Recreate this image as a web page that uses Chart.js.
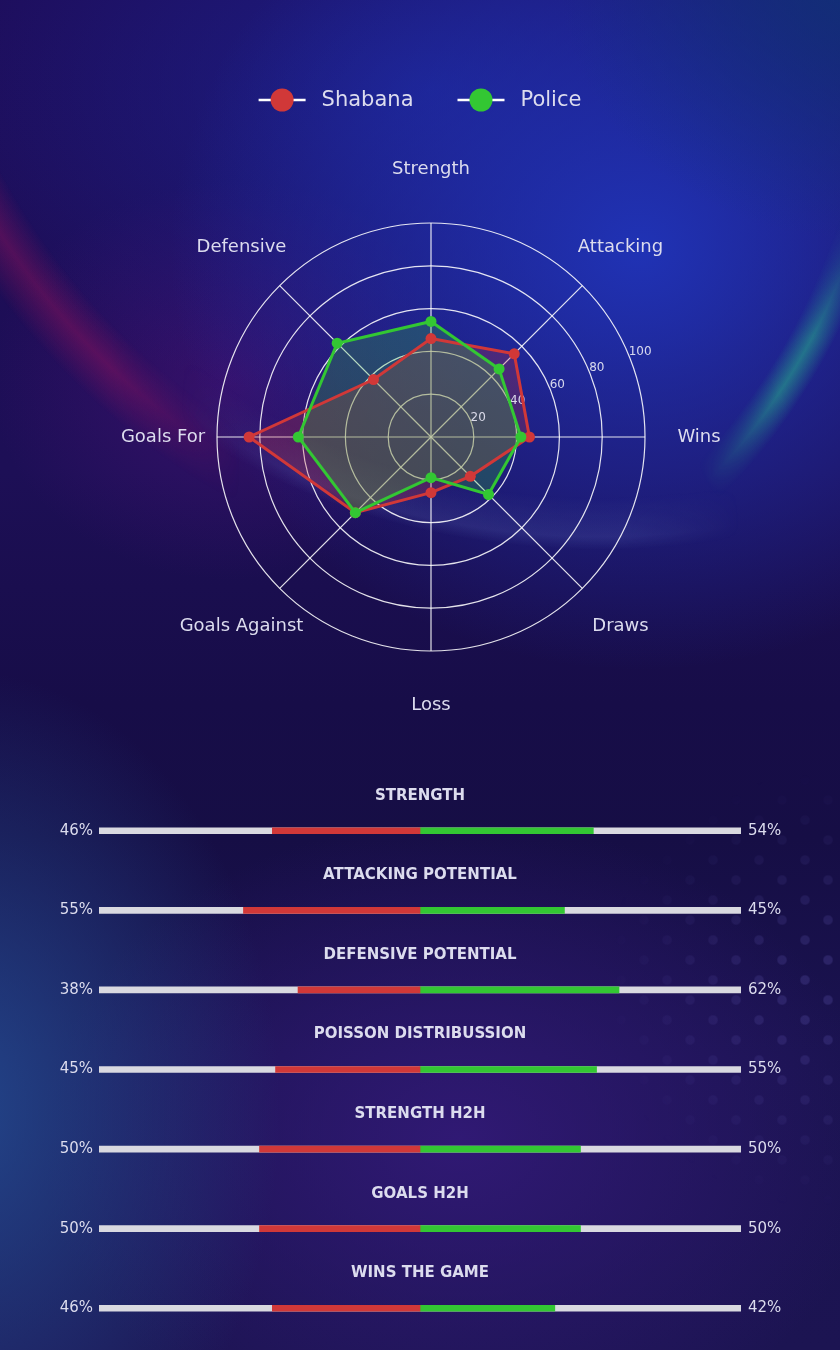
<!DOCTYPE html>
<html>
<head>
<meta charset="utf-8">
<title>Shabana vs Police</title>
<script src="https://cdn.jsdelivr.net/npm/chart.js@4.4.1/dist/chart.umd.min.js"></script>
<style>
    html, body {
        margin: 0;
        padding: 0;
    }
    body {
        position: relative;
        width: 840px;
        height: 1350px;
        overflow: hidden;
        background:
            radial-gradient(ellipse 300px 260px at 860px -20px, rgba(16, 50, 120, 0.9), rgba(16, 50, 120, 0) 100%),
            radial-gradient(ellipse 470px 420px at 640px 250px, rgba(32, 52, 185, 0.95), rgba(32, 52, 185, 0) 100%),
            radial-gradient(ellipse 520px 320px at 430px 90px, rgba(28, 36, 150, 0.75), rgba(28, 36, 150, 0) 100%),
            radial-gradient(ellipse 240px 200px at 230px 380px, rgba(72, 18, 120, 0.6), rgba(72, 18, 120, 0) 100%),
            radial-gradient(ellipse 320px 440px at -40px 1110px, rgba(36, 78, 148, 0.85), rgba(36, 78, 148, 0) 100%),
            radial-gradient(ellipse 420px 320px at 460px 1140px, rgba(52, 26, 122, 0.85), rgba(52, 26, 122, 0) 100%),
            linear-gradient(180deg, #1e0c58 0%, #1d0f56 35%, #170d48 52%, #160e45 62%, #1a1350 78%, #1c1452 100%);
    }
    .bg-layer {
        position: absolute;
        left: 0;
        top: 0;
        width: 840px;
        height: 1350px;
        pointer-events: none;
    }
    .arc-red {
        background: radial-gradient(circle at 600px -150px, rgba(170, 20, 90, 0) 680px, rgba(175, 20, 92, 0.36) 712px, rgba(170, 20, 90, 0) 748px);
        -webkit-mask-image: linear-gradient(90deg, #000 0px, #000 110px, transparent 240px);
        mask-image: linear-gradient(90deg, #000 0px, #000 110px, transparent 240px);
    }
    .arc-teal {
        background: radial-gradient(circle at 250px 40px, rgba(40, 190, 140, 0) 615px, rgba(40, 195, 140, 0.5) 636px, rgba(40, 190, 140, 0) 657px);
        -webkit-mask-image: radial-gradient(ellipse 130px 170px at 810px 380px, #000 25%, transparent 100%);
        mask-image: radial-gradient(ellipse 130px 170px at 810px 380px, #000 25%, transparent 100%);
    }
    .haze {
        background: radial-gradient(ellipse 600px 440px at 600px 110px, rgba(120, 140, 220, 0) 88%, rgba(130, 150, 225, 0.14) 97%, rgba(120, 140, 220, 0) 100%);
        -webkit-mask-image: linear-gradient(90deg, transparent 180px, #000 300px, #000 620px, transparent 740px);
        mask-image: linear-gradient(90deg, transparent 180px, #000 300px, #000 620px, transparent 740px);
    }
    .dots {
        background-image:
            radial-gradient(circle, rgba(120, 110, 210, 0.2) 4px, rgba(120, 110, 210, 0) 5.5px),
            radial-gradient(circle, rgba(120, 110, 210, 0.2) 4px, rgba(120, 110, 210, 0) 5.5px);
        background-size: 46px 40px, 46px 40px;
        background-position: 0 0, 23px 20px;
        -webkit-mask-image: radial-gradient(ellipse 230px 220px at 830px 990px, #000 15%, transparent 100%);
        mask-image: radial-gradient(ellipse 230px 220px at 830px 990px, #000 15%, transparent 100%);
    }
    canvas {
        position: absolute;
        left: 0;
    }
    #graficoRadar {
        top: 0;
    }
    #graficoBarras {
        top: 760px;
    }
</style>
</head>
<body>
<div class="bg-layer arc-red"></div>
<div class="bg-layer haze"></div>
<div class="bg-layer arc-teal"></div>
<div class="bg-layer dots"></div>
<canvas id="graficoRadar" width="840" height="760"></canvas>
<canvas id="graficoBarras" width="840" height="590"></canvas>
<script>
// radar data
const categories = ['Strength', 'Attacking', 'Wins', 'Draws', 'Loss', 'Goals Against', 'Goals For', 'Defensive'];
const shabanaValues = [46, 55, 46, 26, 26, 50, 85, 38];
const policeValues = [54, 45, 42, 38, 19, 50, 62, 62];
const radialTicks = [20, 40, 60, 80, 100];

// comparison bars
const barTitles = ['STRENGTH', 'ATTACKING POTENTIAL', 'DEFENSIVE POTENTIAL', 'POISSON DISTRIBUSSION', 'STRENGTH H2H', 'GOALS H2H', 'WINS THE GAME'];
const shabanaPct = [46, 55, 38, 45, 50, 50, 46];
const policePct = [54, 45, 62, 55, 50, 50, 42];

const teamNames = ['Shabana', 'Police'];
const red = '#d13838';
const green = '#33c733';
const textColor = '#dcdcee';

Chart.defaults.font.family = '"DejaVu Sans", sans-serif';
Chart.defaults.color = textColor;

// tick numbers, point labels and legend on the radar
const radarText = {
    id: 'radarText',
    beforeDatasetsDraw(chart) {
        const scale = chart.scales.r;
        const ctx = chart.ctx;
        const ang = Math.PI / 8;
        ctx.save();
        ctx.font = '12px "DejaVu Sans"';
        ctx.fillStyle = 'rgba(230, 230, 244, 0.92)';
        ctx.textAlign = 'left';
        ctx.textBaseline = 'alphabetic';
        radialTicks.forEach(v => {
            const d = scale.getDistanceFromCenterForValue(v);
            ctx.fillText(String(v), scale.xCenter + d * Math.cos(ang), scale.yCenter - d * Math.sin(ang));
        });
        ctx.restore();
    },
    afterDraw(chart) {
        const scale = chart.scales.r;
        const ctx = chart.ctx;
        ctx.save();
        ctx.fillStyle = textColor;
        ctx.font = '18px "DejaVu Sans"';
        ctx.textAlign = 'center';
        ctx.textBaseline = 'middle';
        chart.data.labels.forEach((label, i) => {
            const p = scale.getPointPosition(i, scale.drawingArea + 54);
            ctx.fillText(label, p.x, p.y);
        });

        // legend: line + marker like a line plot handle
        ctx.font = '21px "DejaVu Sans"';
        ctx.textAlign = 'left';
        const handle = 47, gap = 16, spacing = 44;
        const items = [...chart.data.datasets].sort((a, b) => a.legendIndex - b.legendIndex);
        let total = 0;
        items.forEach((ds, i) => {
            total += handle + gap + ctx.measureText(ds.label).width + (i < items.length - 1 ? spacing : 0);
        });
        let x = chart.width / 2 - total / 2;
        const y = 100;
        items.forEach(ds => {
            ctx.strokeStyle = '#ffffff';
            ctx.lineWidth = 2.5;
            ctx.beginPath();
            ctx.moveTo(x, y);
            ctx.lineTo(x + handle, y);
            ctx.stroke();
            ctx.fillStyle = ds.borderColor;
            ctx.beginPath();
            ctx.arc(x + handle / 2, y, 11.5, 0, Math.PI * 2);
            ctx.fill();
            x += handle + gap;
            ctx.fillStyle = textColor;
            ctx.fillText(ds.label, x, y + 1);
            x += ctx.measureText(ds.label).width + spacing;
        });
        ctx.restore();
    }
};

new Chart(document.getElementById('graficoRadar').getContext('2d'), {
    type: 'radar',
    data: {
        labels: categories,
        datasets: [{
            label: teamNames[0],
            legendIndex: 0,
            order: 1,
            data: shabanaValues,
            backgroundColor: 'rgba(209, 56, 56, 0.25)',
            borderColor: red,
            borderWidth: 3,
            pointBackgroundColor: red,
            pointBorderWidth: 0,
            pointRadius: 5.5
        }, {
            label: teamNames[1],
            legendIndex: 1,
            order: 0,
            data: policeValues,
            backgroundColor: 'rgba(51, 199, 51, 0.25)',
            borderColor: green,
            borderWidth: 3,
            pointBackgroundColor: green,
            pointBorderWidth: 0,
            pointRadius: 5.5
        }]
    },
    options: {
        responsive: false,
        animation: false,
        layout: { padding: 0 },
        elements: { line: { tension: 0 } },
        scales: {
            r: {
                min: 0,
                max: 100,
                beginAtZero: true,
                ticks: { stepSize: 20, display: false },
                grid: { color: 'rgba(255, 255, 255, 0.88)', lineWidth: 1.2, circular: true },
                angleLines: { color: 'rgba(255, 255, 255, 0.88)', lineWidth: 1.2 },
                pointLabels: { display: false },
                afterFit(scale) {
                    scale.xCenter = 431;
                    scale.yCenter = 437;
                    scale.drawingArea = 214;
                }
            }
        },
        plugins: {
            legend: { display: false },
            filler: { drawTime: 'beforeDatasetsDraw' },
            tooltip: { enabled: true }
        }
    },
    plugins: [radarText]
});

// titles and percentages around each bar
const barText = {
    id: 'barText',
    afterDatasetsDraw(chart) {
        const ctx = chart.ctx;
        const yScale = chart.scales.y;
        const xScale = chart.scales.x;
        const area = chart.chartArea;
        ctx.save();
        ctx.fillStyle = textColor;
        ctx.textBaseline = 'middle';
        barTitles.forEach((title, i) => {
            const py = yScale.getPixelForValue(i);
            ctx.font = 'bold 15px "DejaVu Sans"';
            ctx.textAlign = 'center';
            ctx.fillText(title, xScale.getPixelForValue(0), py - 35);
            ctx.font = '15px "DejaVu Sans"';
            ctx.textAlign = 'right';
            ctx.fillText(shabanaPct[i] + '%', area.left - 6, py);
            ctx.textAlign = 'left';
            ctx.fillText(policePct[i] + '%', area.right + 7, py);
        });
        ctx.restore();
    }
};

new Chart(document.getElementById('graficoBarras').getContext('2d'), {
    type: 'bar',
    data: {
        labels: barTitles,
        datasets: [{
            label: teamNames[0],
            data: shabanaPct.map(v => [-v, 0]),
            backgroundColor: red,
            order: 0
        }, {
            label: teamNames[1],
            data: policePct.map(v => [0, v]),
            backgroundColor: green,
            order: 0
        }, {
            label: 'total',
            data: barTitles.map(() => [-100, 100]),
            backgroundColor: '#d9d9e0',
            order: 1
        }]
    },
    options: {
        indexAxis: 'y',
        responsive: false,
        animation: false,
        layout: { padding: { left: 99, right: 99, top: 31, bottom: 2 } },
        datasets: {
            bar: {
                grouped: false,
                barThickness: 6,
                borderWidth: 0,
                borderSkipped: false
            }
        },
        scales: {
            x: { min: -100, max: 100, display: false },
            y: { display: false, offset: true }
        },
        plugins: {
            legend: { display: false },
            tooltip: { enabled: false }
        }
    },
    plugins: [barText]
});
</script>
</body>
</html>
